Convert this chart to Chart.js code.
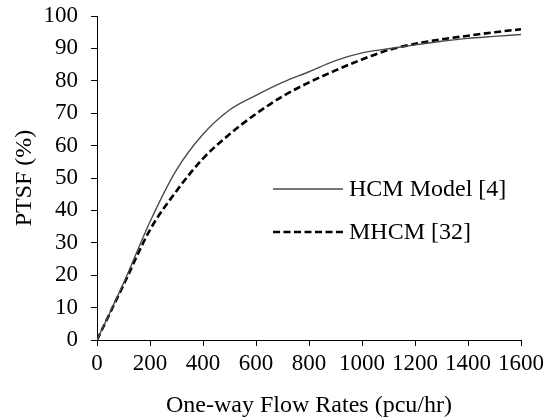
<!DOCTYPE html>
<html>
<head>
<meta charset="utf-8">
<script src="https://cdn.jsdelivr.net/npm/chart.js@4.4.0/dist/chart.umd.min.js"></script>
<style>
html,body{margin:0;padding:0;background:#fff;}
#wrap{width:545px;height:419px;position:relative;}
</style>
</head>
<body>
<div id="wrap"><canvas id="c" width="545" height="419"></canvas></div>
<script>
const flowRates = [0,100,200,300,400,500,600,700,800,900,1000,1100,1200,1300,1400,1500,1600];
const hcmValues = [0,17.5,36.5,52.5,63.5,71,75.5,79.5,82.8,86.2,88.6,89.9,91.1,92.2,93.1,93.7,94.3];
const mhcmValues = [0,17,34,46,56,63.5,69.8,75.2,79.5,83.2,86.6,89.5,91.4,92.8,93.9,95,95.9];
const seriesNames = ['HCM Model [4]','MHCM [32]'];
const xTitle = 'One-way Flow Rates (pcu/hr)';
const yTitle = 'PTSF (%)';

const FONT = 'Liberation Serif, Times New Roman, serif';

const legendPlugin = {
  id: 'insideLegend',
  afterDatasetsDraw(chart) {
    const ctx = chart.ctx;
    const items = chart.data.datasets;
    const ys = [189, 232];
    ctx.save();
    items.forEach((ds, i) => {
      ctx.beginPath();
      ctx.strokeStyle = ds.borderColor;
      ctx.lineWidth = ds.borderWidth;
      ctx.setLineDash(ds.borderDash || []);
      ctx.moveTo(273, ys[i]);
      ctx.lineTo(343, ys[i]);
      ctx.stroke();
      ctx.setLineDash([]);
      ctx.fillStyle = '#000';
      ctx.font = '24px ' + FONT;
      ctx.textBaseline = 'middle';
      ctx.textAlign = 'left';
      ctx.fillText(ds.label, 349, ys[i] + 1);
    });
    ctx.restore();
  }
};

new Chart(document.getElementById('c'), {
  type: 'line',
  data: {
    datasets: [
      {
        label: seriesNames[0],
        data: flowRates.map((x, i) => ({x: x, y: hcmValues[i]})),
        borderColor: '#4a4a4a',
        borderWidth: 1.4,
        pointRadius: 0,
        fill: false,
        cubicInterpolationMode: 'monotone'
      },
      {
        label: seriesNames[1],
        data: flowRates.map((x, i) => ({x: x, y: mhcmValues[i]})),
        borderColor: '#000',
        borderWidth: 2.6,
        borderDash: [7, 3.5],
        pointRadius: 0,
        fill: false,
        cubicInterpolationMode: 'monotone'
      }
    ]
  },
  options: {
    responsive: false,
    animation: false,
    devicePixelRatio: 1,
    layout: {padding: {left: 0, right: 24, top: 16, bottom: 0}},
    plugins: {legend: {display: false}, tooltip: {enabled: false}},
    scales: {
      x: {
        type: 'linear',
        min: 0, max: 1600,
        ticks: {stepSize: 200, color: '#000', font: {family: FONT, size: 23}, padding: 4, maxRotation: 0, autoSkip: false,
          callback: (v) => String(v)},
        grid: {drawOnChartArea: false, drawTicks: true, tickLength: 6, color: '#000'},
        border: {color: '#000', width: 1},
        title: {display: true, text: xTitle, color: '#000', font: {family: FONT, size: 24, lineHeight: 1.1}, padding: {top: 0, bottom: 0}},
        afterFit(scale) { scale.height = 79; scale.paddingRight = 0; scale.paddingLeft = 0; }
      },
      y: {
        min: 0, max: 100,
        ticks: {stepSize: 10, color: '#000', font: {family: FONT, size: 23}, padding: 13, autoSkip: false,
          callback: (v) => String(v)},
        grid: {drawOnChartArea: false, drawTicks: true, tickLength: 6, color: '#000'},
        border: {color: '#000', width: 1},
        title: {display: true, text: yTitle, color: '#000', font: {family: FONT, size: 24, lineHeight: 1.1}, padding: {top: 12, bottom: 0}},
        afterFit(scale) { scale.width = 97; scale.paddingTop = 0; scale.paddingBottom = 0; }
      }
    }
  },
  plugins: [legendPlugin]
});
</script>
</body>
</html>
